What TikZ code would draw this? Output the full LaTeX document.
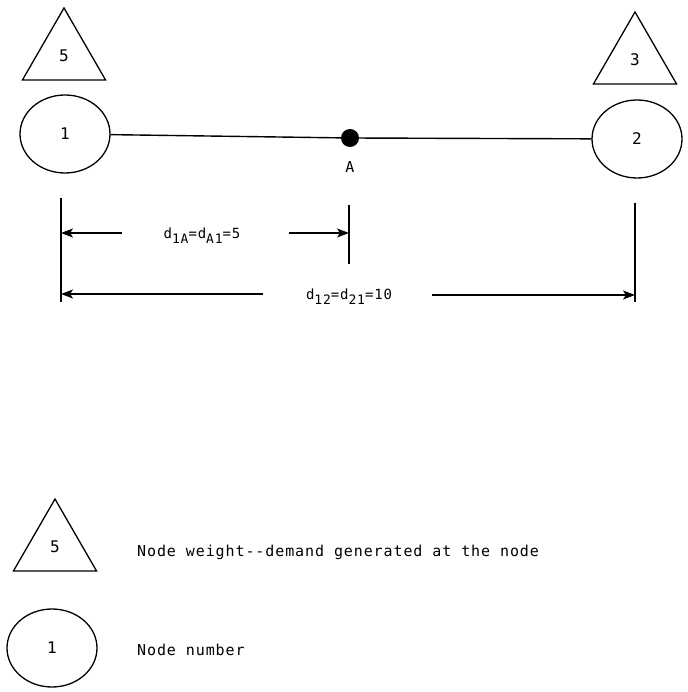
\documentclass[tikz,border=0pt]{standalone}
\usepackage{fontspec}
\setmainfont{DejaVu Sans Mono}[LetterSpace=6]
\usetikzlibrary{arrows.meta,positioning,shapes.geometric}
\newcommand{\lowsub}[1]{\raisebox{-5pt}{\fontsize{13}{15}\selectfont #1}}
\tikzset{
  nodenum/.style={
    ellipse, draw=black, line width=1.3pt,
    minimum width=90pt, minimum height=78pt, inner sep=0pt,
    font=\fontsize{16}{18}\selectfont
  },
  weight/.style={
    regular polygon, regular polygon sides=3, draw=black, line width=1.3pt,
    minimum size=96pt, inner sep=0pt,
    font=\fontsize{16}{18}\selectfont
  },
  point/.style={circle, fill=black, minimum size=18pt, inner sep=0pt},
  txt/.style={font=\fontsize{15}{18}\selectfont, inner sep=0pt},
  dimtxt/.style={font=\fontsize{14}{17}\selectfont, inner sep=0pt},
  link/.style={line width=1.4pt},
  tick/.style={line width=1.7pt},
  dimline/.style={-{Stealth[length=12pt,width=9pt,inset=3pt]}, line width=1.4pt},
}

\begin{document}
\begin{tikzpicture}[x=1pt, y=-1pt]
  \useasboundingbox (0,0) rectangle (687,692);

  % Network: two nodes and point A
  \node[nodenum] (n1) at (65,134) {1};
  \node[nodenum] (n2) at (637,139) {2};
  \node[weight] (w1) at (64,56) {5};
  \node[weight] (w2) at (635,60) {3};
  \node[point] (A) at (350,138) {};
  \node[txt, below=14pt of A] (lblA) {A};

  \draw[link] (n1) -- (A) -- (n2);

  % Dimension ticks
  \coordinate (tick1) at (61,198);
  \coordinate (tick1b) at (61,302);
  \coordinate (tickA) at (349,205);
  \coordinate (tickAb) at (349,264);
  \coordinate (tick2) at (635,203);
  \coordinate (tick2b) at (635,302);
  \draw[tick] (tick1) -- (tick1b);
  \draw[tick, line width=2.4pt] (tickA) -- (tickAb);
  \draw[tick] (tick2) -- (tick2b);

  % Distance 1-A
  \node[dimtxt] (d1A) at (202,236) {d\lowsub{1A}=d\lowsub{A1}=5};
  \coordinate (s1l) at (122,233);
  \coordinate (s1r) at (289,233);
  \draw[dimline] (s1l) -- (tick1 |- s1l);
  \draw[dimline] (s1r) -- (tickA |- s1r);

  % Distance 1-2
  \node[dimtxt] (d12) at (349,297) {d\lowsub{12}=d\lowsub{21}=10};
  \coordinate (s2l) at (263,294);
  \coordinate (s2r) at (432,295);
  \draw[dimline] (s2l) -- (tick1 |- s2l);
  \draw[dimline] (s2r) -- (tick2 |- s2r);

  % Legend
  \node[weight] (w0) at (55,547) {5};
  \node[nodenum] (n0) at (52,648) {1};
  \node[txt, anchor=west] (lgw) at (137,552) {Node weight-{}-demand generated at the node};
  \node[txt, anchor=west] (lgn) at (137,650) {Node number};
\end{tikzpicture}
\end{document}
